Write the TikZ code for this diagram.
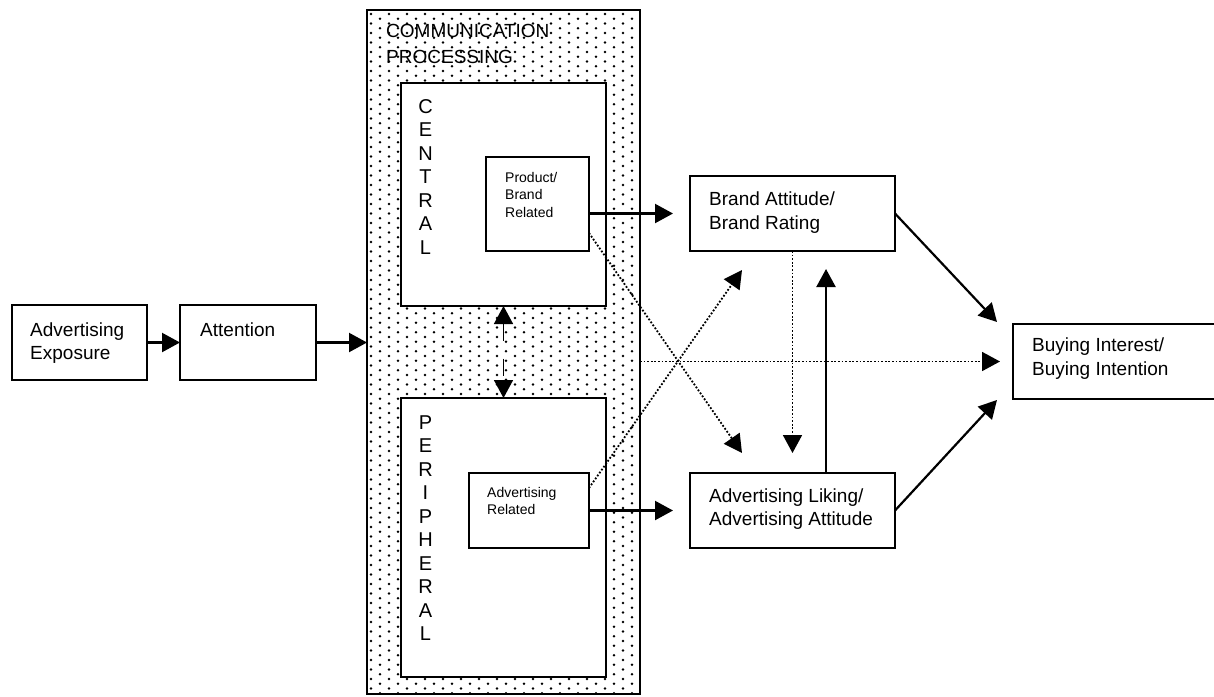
\documentclass[tikz,border=0pt]{standalone}
\usepackage{fontspec}
\setmainfont{Liberation Sans}
\usetikzlibrary{arrows.meta,calc}
\begin{document}
\begin{tikzpicture}[x=1pt,y=-1pt,
  box/.style={draw,line width=2.2pt,fill=white,inner sep=0pt,outer sep=0pt},
  % multi-line texts are placed by the baseline of their last line
  txt/.style={anchor=base west,inner sep=0pt,align=left,font=\fontsize{19}{23.5}\selectfont},
  smalltxt/.style={anchor=base west,inner sep=0pt,align=left,font=\fontsize{14}{17.5}\selectfont},
  vert/.style={anchor=base,inner sep=0pt,align=center,font=\fontsize{20}{23.5}\selectfont},
  tip/.tip={Triangle[length=18pt,width=19pt]},
  flow/.style={line width=2.2pt,-tip},
  dotflow/.style={line width=1.8pt,dash pattern=on 1.8pt off 1.8pt,-tip},
]
\useasboundingbox (0,0) rectangle (1214,696);

% left chain
\node[box,minimum width=135pt,minimum height=75pt] (expo) at (79.5,342.5) {};
\node[box,minimum width=136pt,minimum height=75pt] (att) at (248,342.5) {};
\node[txt] (expotxt) at ($(expo.north west)+(18,54.5)$) {Advertising\\Exposure};
\node[txt] (atttxt) at ($(att.north west)+(20,31)$) {Attention};

% communication processing block with dotted fill
\node[box,minimum width=273pt,minimum height=684pt] (outer) at (503.5,352) {};
\begin{scope}
  \clip (outer.north west) rectangle (outer.south east);
  \foreach \i in {0,...,30} {
    \foreach \j in {0,...,72} {
      \fill ({371+9*\i},{14+9.5*\j+mod(\i,2)*4.75}) circle (1.3pt);
    }
  }
\end{scope}
\node[txt] (commtxt) at (386,63) {COMMUNICATION\\[2.5pt]PROCESSING};

\node[box,minimum width=205pt,minimum height=223pt] (central) at (503.5,194.5) {};
\node[box,minimum width=205pt,minimum height=279pt] (periph) at (503.5,537.5) {};
\node[vert] (centtxt) at (425.5,254) {C\\E\\N\\T\\R\\A\\L};
\node[vert] (periphtxt) at (425.5,640.5) {P\\E\\R\\I\\P\\H\\E\\R\\A\\L};

\node[box,minimum width=103pt,minimum height=94pt] (prod) at (537.5,204) {};
\node[smalltxt] (prodtxt) at ($(prod.north west)+(19,60)$) {Product/\\Brand\\Related};
\node[box,minimum width=120pt,minimum height=75pt] (advrel) at (529,510.5) {};
\node[smalltxt] (advreltxt) at ($(advrel.north west)+(18,41.5)$) {Advertising\\Related};

% attitude boxes
\node[box,minimum width=205pt,minimum height=75pt] (brand) at (792.5,213.5) {};
\node[txt] (brandtxt) at ($(brand.north west)+(19,53)$) {Brand Attitude/\\Brand Rating};
\node[box,minimum width=205pt,minimum height=75pt] (liking) at (792.5,510.5) {};
\node[txt] (likingtxt) at ($(liking.north west)+(19,52.5)$) {Advertising Liking/\\Advertising Attitude};

% outcome box
\node[box,minimum width=207pt,minimum height=75pt] (buying) at (1116.5,361.5) {};
\node[txt] (buyingtxt) at ($(buying.north west)+(19,51)$) {Buying Interest/\\Buying Intention};

% connectors
\draw[flow] (expo) -- (att);
\draw[flow] (att.east) -- (att.east -| outer.west);
\draw[flow,shorten >=17pt] (prod.east |- brand.west) -- (brand.west);
\draw[flow,shorten >=17pt] (advrel.east) -- (liking.west);
\draw[line width=1.6pt,dash pattern=on 17pt off 18pt,tip-tip] (central.south) -- (periph.north);

\draw[dotflow,shorten >=13pt] (outer.east |- buying.west) -- (buying.west);
\coordinate (crossA) at ($(liking.north west)+(52,-20)$);
\coordinate (crossB) at ($(brand.south west)+(52,19)$);
\draw[dotflow] ($(prod.north east)+(0,76)$) -- (crossA);
\draw[dotflow] ($(advrel.north east)+(0,15)$) -- (crossB);
\draw[dotflow,shorten >=20pt] (brand.south) -- (brand.south |- liking.north);
\draw[flow,shorten >=18pt] ($(liking.north)+(33.5,0)$) -- ($(brand.south)+(33.5,0)$);

\coordinate (inTop) at ($(buying.north west)+(-16,-2)$);
\coordinate (inBot) at ($(buying.south west)+(-16,1)$);
\draw[flow] (brand.east) -- (inTop);
\draw[flow] (liking.east) -- (inBot);
\end{tikzpicture}
\end{document}
